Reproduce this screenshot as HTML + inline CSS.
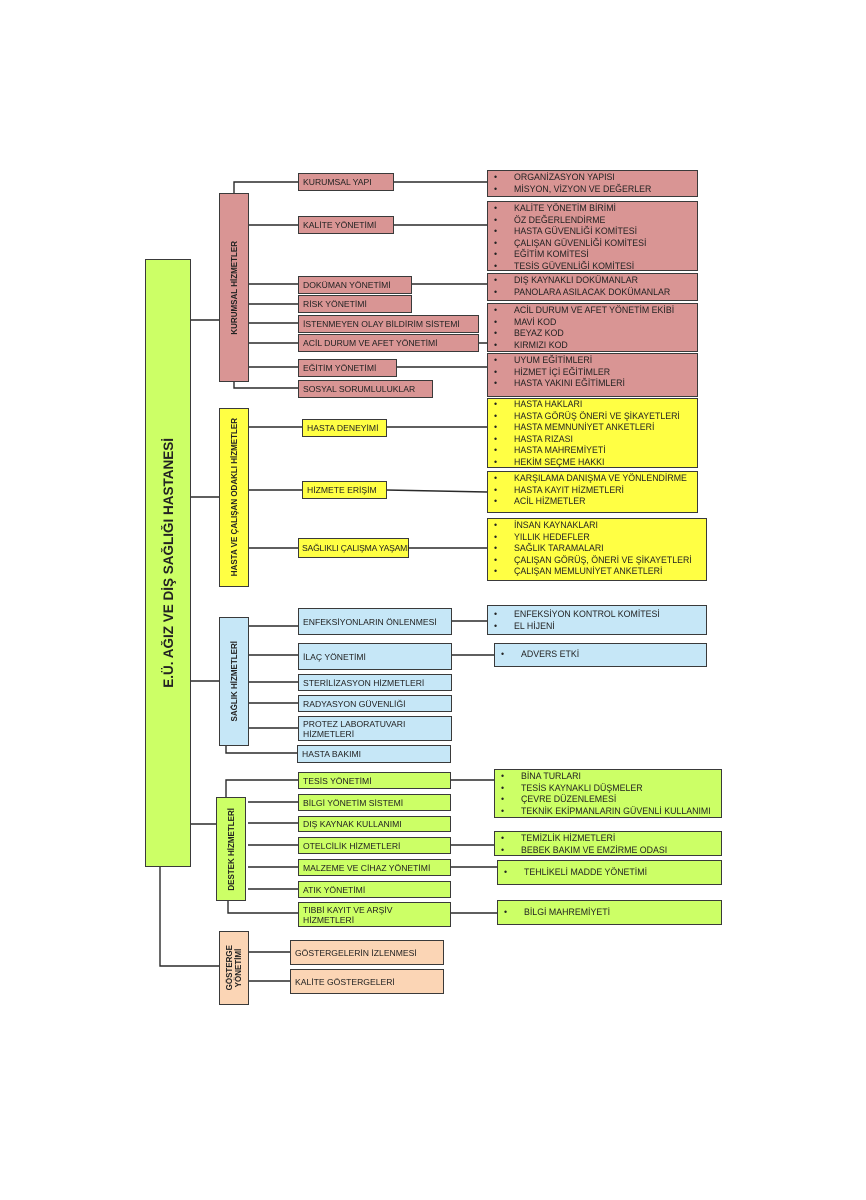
<!DOCTYPE html>
<html><head><meta charset="utf-8"><style>
body{margin:0;width:866px;height:1200px;background:#fff;position:relative;overflow:hidden;font-family:"Liberation Sans","DejaVu Sans",sans-serif;}
.b{position:absolute;border:1.4px solid #3a3a3a;box-sizing:border-box;font-size:8.6px;color:#222;padding-left:4px;display:flex;align-items:center;line-height:10px;white-space:nowrap;}
.v{position:absolute;border:1.4px solid #3a3a3a;box-sizing:border-box;display:flex;align-items:center;justify-content:center;}
.v span{writing-mode:vertical-rl;transform:rotate(180deg);font-weight:bold;font-size:8px;color:#222;white-space:nowrap;text-align:center;}
.l{position:absolute;border:1.4px solid #3a3a3a;box-sizing:border-box;font-size:8.8px;color:#222;padding:1px 0 0 6px;white-space:nowrap;}
.l div{height:11.5px;line-height:11.5px;}
.l div:before{content:"•";display:inline-block;width:20px;}
.r{background:#d99594}.y{background:#ffff44}.c{background:#c6e7f7}.g{background:#ccff66}.p{background:#fbd5b5}
svg{position:absolute;left:0;top:0}
</style></head><body>
<svg width="866" height="1200" stroke="#2a2a2a" stroke-width="1.4" fill="none">
<path d="M190 320H219 M160 866V966H219 M190 497H219 M190 681H219 M190 824H219"/>
<path d="M234 193V182H298 M248 225H298 M248 284H298 M248 304H298 M248 323H298 M248 343H298 M248 367H298 M234 381V388H298"/>
<path d="M393 182H487 M393 225H487 M411 284H487 M478 343H487 M396 367H487"/>
<path d="M248 427H302 M386 427H487 M248 490H302 M386 490L487 492 M248 548H298 M409 548H487"/>
<path d="M248 626H298 M451 621H487 M248 655H298 M451 655H494 M248 682H298 M248 703H298 M248 728H298 M226 745V753H297"/>
<path d="M226 797V780H298 M450 780H494 M248 802H298 M248 823H298 M248 845H298 M450 845H494 M248 867H298 M450 867H497 M248 889H298 M228 900V913H298 M450 913H497"/>
<path d="M248 952H290 M248 981H290"/>
</svg>
<div class="v g" style="left:145px;top:259px;width:46px;height:608px"><span style="font-size:13.5px">E.Ü. AĞIZ VE DİŞ SAĞLIĞI HASTANESİ</span></div>
<div class="v r" style="left:219px;top:193px;width:30px;height:189px"><span>KURUMSAL HİZMETLER</span></div>
<div class="v y" style="left:219px;top:408px;width:30px;height:179px"><span>HASTA VE ÇALIŞAN ODAKLI HİZMETLER</span></div>
<div class="v c" style="left:219px;top:617px;width:30px;height:129px"><span>SAĞLIK HİZMETLERİ</span></div>
<div class="v g" style="left:216px;top:797px;width:30px;height:104px"><span>DESTEK HİZMETLERİ</span></div>
<div class="v p" style="left:219px;top:931px;width:30px;height:74px"><span>GÖSTERGE<br>YÖNETİMİ</span></div>

<div class="b r" style="left:298px;top:173px;width:96px;height:18px">KURUMSAL YAPI</div>
<div class="b r" style="left:298px;top:216px;width:96px;height:18px">KALİTE YÖNETİMİ</div>
<div class="b r" style="left:298px;top:276px;width:114px;height:18px">DOKÜMAN YÖNETİMİ</div>
<div class="b r" style="left:298px;top:295px;width:114px;height:18px">RİSK YÖNETİMİ</div>
<div class="b r" style="left:298px;top:315px;width:181px;height:18px">İSTENMEYEN OLAY BİLDİRİM SİSTEMİ</div>
<div class="b r" style="left:298px;top:334px;width:181px;height:18px">ACİL DURUM VE AFET YÖNETİMİ</div>
<div class="b r" style="left:298px;top:359px;width:99px;height:18px">EĞİTİM YÖNETİMİ</div>
<div class="b r" style="left:298px;top:380px;width:135px;height:18px">SOSYAL SORUMLULUKLAR</div>
<div class="l r" style="left:487px;top:170px;width:211px;height:27px"><div>ORGANİZASYON YAPISI</div><div>MİSYON, VİZYON VE DEĞERLER</div></div>
<div class="l r" style="left:487px;top:201px;width:211px;height:70px"><div>KALİTE YÖNETİM BİRİMİ</div><div>ÖZ DEĞERLENDİRME</div><div>HASTA GÜVENLİĞİ KOMİTESİ</div><div>ÇALIŞAN GÜVENLİĞİ KOMİTESİ</div><div>EĞİTİM KOMİTESİ</div><div>TESİS GÜVENLİĞİ KOMİTESİ</div></div>
<div class="l r" style="left:487px;top:273px;width:211px;height:28px"><div>DIŞ KAYNAKLI DOKÜMANLAR</div><div>PANOLARA ASILACAK DOKÜMANLAR</div></div>
<div class="l r" style="left:487px;top:303px;width:211px;height:49px"><div>ACİL DURUM VE AFET YÖNETİM EKİBİ</div><div>MAVİ KOD</div><div>BEYAZ KOD</div><div>KIRMIZI KOD</div></div>
<div class="l r" style="left:487px;top:353px;width:211px;height:44px"><div>UYUM EĞİTİMLERİ</div><div>HİZMET İÇİ EĞİTİMLER</div><div>HASTA YAKINI EĞİTİMLERİ</div></div>

<div class="b y" style="left:302px;top:419px;width:85px;height:18px">HASTA DENEYİMİ</div>
<div class="b y" style="left:302px;top:481px;width:85px;height:18px">HİZMETE ERİŞİM</div>
<div class="b y" style="left:298px;top:538px;width:111px;height:20px;letter-spacing:-0.2px;padding-left:3px">SAĞLIKLI ÇALIŞMA YAŞAMI</div>
<div class="l y" style="left:487px;top:398px;width:211px;height:70px;padding-top:0"><div>HASTA HAKLARI</div><div>HASTA GÖRÜŞ ÖNERİ VE ŞİKAYETLERİ</div><div>HASTA MEMNUNİYET ANKETLERİ</div><div>HASTA RIZASI</div><div>HASTA MAHREMİYETİ</div><div>HEKİM SEÇME HAKKI</div></div>
<div class="l y" style="left:487px;top:471px;width:211px;height:42px"><div>KARŞILAMA DANIŞMA VE YÖNLENDİRME</div><div>HASTA KAYIT HİZMETLERİ</div><div>ACİL HİZMETLER</div></div>
<div class="l y" style="left:487px;top:518px;width:220px;height:63px"><div>İNSAN KAYNAKLARI</div><div>YILLIK HEDEFLER</div><div>SAĞLIK TARAMALARI</div><div>ÇALIŞAN GÖRÜŞ, ÖNERİ VE ŞİKAYETLERİ</div><div>ÇALIŞAN MEMLUNİYET ANKETLERİ</div></div>

<div class="b c" style="left:298px;top:608px;width:154px;height:27px">ENFEKSİYONLARIN ÖNLENMESİ</div>
<div class="b c" style="left:298px;top:643px;width:154px;height:27px">İLAÇ YÖNETİMİ</div>
<div class="b c" style="left:298px;top:674px;width:154px;height:17px">STERİLİZASYON HİZMETLERİ</div>
<div class="b c" style="left:298px;top:695px;width:154px;height:17px">RADYASYON GÜVENLİĞİ</div>
<div class="b c" style="left:298px;top:716px;width:154px;height:25px">PROTEZ LABORATUVARI<br>HİZMETLERİ</div>
<div class="b c" style="left:297px;top:745px;width:154px;height:18px">HASTA BAKIMI</div>
<div class="l c" style="left:487px;top:605px;width:220px;height:30px;padding-top:3px"><div>ENFEKSİYON KONTROL KOMİTESİ</div><div>EL HİJENİ</div></div>
<div class="l c" style="left:494px;top:643px;width:213px;height:24px;padding-top:5px"><div>ADVERS ETKİ</div></div>

<div class="b g" style="left:298px;top:772px;width:153px;height:17px">TESİS YÖNETİMİ</div>
<div class="b g" style="left:298px;top:794px;width:153px;height:17px">BİLGİ YÖNETİM SİSTEMİ</div>
<div class="b g" style="left:298px;top:816px;width:153px;height:16px">DIŞ KAYNAK KULLANIMI</div>
<div class="b g" style="left:298px;top:837px;width:153px;height:17px">OTELCİLİK HİZMETLERİ</div>
<div class="b g" style="left:298px;top:859px;width:153px;height:17px">MALZEME VE CİHAZ YÖNETİMİ</div>
<div class="b g" style="left:298px;top:881px;width:153px;height:17px">ATIK YÖNETİMİ</div>
<div class="b g" style="left:298px;top:902px;width:153px;height:25px">TIBBİ KAYIT VE ARŞİV<br>HİZMETLERİ</div>
<div class="l g" style="left:494px;top:769px;width:228px;height:49px"><div>BİNA TURLARI</div><div>TESİS KAYNAKLI DÜŞMELER</div><div>ÇEVRE DÜZENLEMESİ</div><div>TEKNİK EKİPMANLARIN GÜVENLİ KULLANIMI</div></div>
<div class="l g" style="left:494px;top:831px;width:228px;height:25px"><div>TEMİZLİK HİZMETLERİ</div><div>BEBEK BAKIM VE EMZİRME ODASI</div></div>
<div class="l g" style="left:497px;top:860px;width:225px;height:25px;padding-top:6px"><div>TEHLİKELİ MADDE YÖNETİMİ</div></div>
<div class="l g" style="left:497px;top:900px;width:225px;height:25px;padding-top:6px"><div>BİLGİ MAHREMİYETİ</div></div>

<div class="b p" style="left:290px;top:940px;width:154px;height:25px">GÖSTERGELERİN İZLENMESİ</div>
<div class="b p" style="left:290px;top:969px;width:154px;height:25px">KALİTE GÖSTERGELERİ</div>
</body></html>
